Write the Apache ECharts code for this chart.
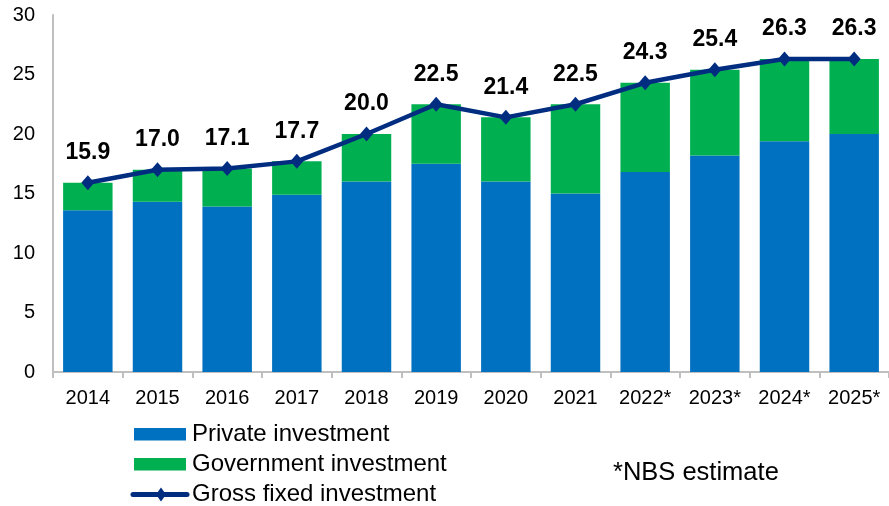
<!DOCTYPE html>
<html>
<head>
<meta charset="utf-8">
<script src="https://cdn.jsdelivr.net/npm/echarts@6/dist/echarts.min.js"></script>
<style>
  html, body { margin: 0; padding: 0; background: #fff; }
  #chart { width: 889px; height: 506px; }
</style>
</head>
<body>
<div id="chart"></div>
<script>
// Fixed investment, % of GDP
const years = ['2014', '2015', '2016', '2017', '2018', '2019', '2020', '2021', '2022*', '2023*', '2024*', '2025*'];
const privateInv = [13.6, 14.3, 13.9, 14.9, 16.0, 17.5, 16.0, 15.0, 16.8, 18.2, 19.4, 20.0];
const governmentInv = [2.3, 2.7, 3.2, 2.8, 4.0, 5.0, 5.4, 7.5, 7.5, 7.2, 6.9, 6.3];
const grossFixed = [15.9, 17.0, 17.1, 17.7, 20.0, 22.5, 21.4, 22.5, 24.3, 25.4, 26.3, 26.3];
const yTicks = { min: 0, max: 30, interval: 5 };

const seriesNames = ['Private investment', 'Government investment', 'Gross fixed investment'];
const footnote = '*NBS estimate';

const FONT = 'Arial, "Liberation Sans", sans-serif';
const BLUE = '#0070C0';
const GREEN = '#00B050';
const NAVY = '#002D80';

// Key below the plot: swatches and labels, plus the footnote
function legendGraphics() {
  const x0 = 134, w = 52, textX = 192;
  const rows = [434.5, 464.5, 494.5];
  const els = [
    { type: 'rect', shape: { x: x0, y: rows[0] - 6.5, width: w, height: 12.5 }, style: { fill: BLUE } },
    { type: 'rect', shape: { x: x0, y: rows[1] - 6.5, width: w, height: 12.5 }, style: { fill: GREEN } },
    { type: 'line', shape: { x1: x0 - 1, y1: rows[2], x2: x0 + w + 1, y2: rows[2] }, style: { stroke: NAVY, lineWidth: 5, lineCap: 'round' } },
    { type: 'polygon', shape: { points: [[x0 + w / 2 + 1, rows[2] - 7], [x0 + w / 2 + 6, rows[2]], [x0 + w / 2 + 1, rows[2] + 7], [x0 + w / 2 - 4, rows[2]]] }, style: { fill: NAVY } }
  ];
  seriesNames.forEach((name, i) => {
    els.push({
      type: 'text', x: textX, y: rows[i],
      style: { text: name, fill: '#000', font: '24px ' + FONT, verticalAlign: 'middle', align: 'left' }
    });
  });
  els.push({
    type: 'text', x: 613, y: 472.5,
    style: { text: footnote, fill: '#000', font: '25.5px ' + FONT, verticalAlign: 'middle', align: 'left' }
  });
  return els;
}

const chart = echarts.init(document.getElementById('chart'), null, { renderer: 'canvas' });
chart.setOption({
  animation: false,
  backgroundColor: '#ffffff',
  grid: { left: 53, right: -8, top: 15, bottom: 134, containLabel: false },
  xAxis: {
    type: 'category',
    data: years,
    axisLine: { lineStyle: { color: '#BFBFBF', width: 2 } },
    axisTick: { show: true, length: 6, lineStyle: { color: '#BFBFBF', width: 2 } },
    axisLabel: { color: '#000', fontFamily: FONT, fontSize: 20, margin: 16 }
  },
  yAxis: {
    type: 'value',
    min: yTicks.min, max: yTicks.max, interval: yTicks.interval,
    axisLine: { show: true, lineStyle: { color: '#BFBFBF', width: 2 } },
    axisTick: { show: false },
    splitLine: { show: false },
    axisLabel: { color: '#000', fontFamily: FONT, fontSize: 20, margin: 18 }
  },
  graphic: legendGraphics(),
  series: [
    {
      name: seriesNames[0],
      type: 'bar',
      stack: 'inv',
      data: privateInv,
      barCategoryGap: '29%',
      itemStyle: { color: BLUE }
    },
    {
      name: seriesNames[1],
      type: 'bar',
      stack: 'inv',
      data: governmentInv,
      itemStyle: { color: GREEN }
    },
    {
      name: seriesNames[2],
      type: 'line',
      data: grossFixed,
      symbol: 'diamond',
      symbolSize: [13, 15],
      lineStyle: { color: NAVY, width: 4.5 },
      itemStyle: { color: NAVY },
      label: {
        show: true,
        position: 'top',
        distance: 11,
        color: '#000',
        fontFamily: FONT,
        fontWeight: 'bold',
        fontSize: 23,
        formatter: p => p.value.toFixed(1)
      },
      z: 5
    }
  ]
});
</script>
</body>
</html>
